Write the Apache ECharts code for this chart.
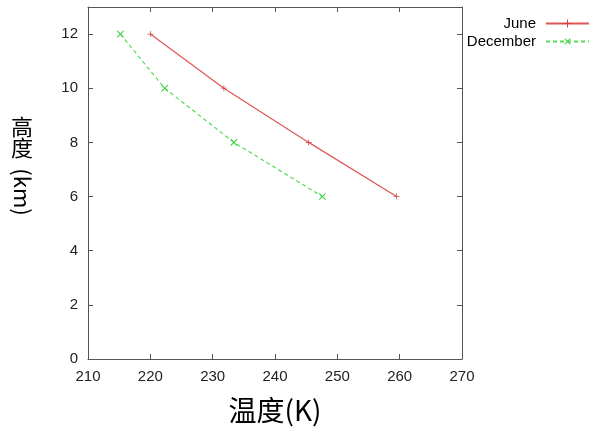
<!DOCTYPE html>
<html>
<head>
<meta charset="utf-8">
<script src="https://cdn.jsdelivr.net/npm/echarts@6/dist/echarts.min.js"></script>
<style>html,body{margin:0;padding:0;background:#fff}#c{width:593px;height:430px}</style>
</head>
<body>
<div id="c"></div>
<script>
var seriesNames = ['June', 'December'];
var juneTemp = [220.0, 231.8, 245.4, 259.5];
var juneAlt = [12, 10, 8, 6];
var decTemp = [215.2, 222.3, 233.4, 247.6];
var decAlt = [12, 10, 8, 6];
var xTitle = '温度(K)';
var yTitleParts = ['高', '度', '(km)'];

function pairs(xs, ys) { return xs.map(function (v, i) { return [v, ys[i]]; }); }

var frameColor = '#555';
var labelFont = { fontSize: 15, fontFamily: '"Liberation Sans", Arial, sans-serif', color: '#222' };
var plusPath = 'path://M0,4.4H10V5.6H0Z M4.4,0H5.6V10H4.4Z';
var cjk = '"Noto Sans CJK SC", sans-serif';

var chart = echarts.init(document.getElementById('c'), null, { renderer: 'canvas' });
chart.setOption({
  animation: false,
  backgroundColor: '#fff',
  grid: { left: 88, right: 131, top: 7, bottom: 71, containLabel: false, outerBoundsMode: 'none' },
  xAxis: [
    { type: 'value', min: 210, max: 270, interval: 10, position: 'bottom',
      name: xTitle, nameLocation: 'middle', nameGap: 37,
      nameTextStyle: { fontSize: 28, fontFamily: cjk, color: '#000' },
      axisLine: { show: true, onZero: false, lineStyle: { color: frameColor, width: 1 } },
      axisTick: { inside: true, length: 5, lineStyle: { color: frameColor } },
      axisLabel: Object.assign({ margin: 10 }, labelFont),
      splitLine: { show: false } },
    { type: 'value', min: 210, max: 270, interval: 10, position: 'top',
      axisLine: { show: true, onZero: false, lineStyle: { color: frameColor, width: 1 } },
      axisTick: { inside: true, length: 5, lineStyle: { color: frameColor } },
      axisLabel: { show: false }, splitLine: { show: false } }
  ],
  yAxis: [
    { type: 'value', min: 0, max: 13, interval: 2, position: 'left',
      axisLine: { show: true, onZero: false, lineStyle: { color: frameColor, width: 1 } },
      axisTick: { inside: true, length: 5, lineStyle: { color: frameColor } },
      axisLabel: Object.assign({ margin: 10, showMaxLabel: false }, labelFont),
      splitLine: { show: false } },
    { type: 'value', min: 0, max: 13, interval: 2, position: 'right',
      axisLine: { show: true, onZero: false, lineStyle: { color: frameColor, width: 1 } },
      axisTick: { inside: true, length: 5, lineStyle: { color: frameColor } },
      axisLabel: { show: false }, splitLine: { show: false } }
  ],
  legend: [
    { data: [seriesNames[0]], orient: 'vertical', align: 'right', right: 3, top: 16, padding: 0,
      itemWidth: 43, itemHeight: 10, itemGap: 0,
      textStyle: { fontSize: 15, fontFamily: '"Liberation Sans", Arial, sans-serif', color: '#000', padding: [0, 5, 0, 0] } },
    { data: [seriesNames[1]], orient: 'vertical', align: 'right', right: 3, top: 34, padding: 0,
      itemWidth: 43, itemHeight: 10, itemGap: 0,
      textStyle: { fontSize: 15, fontFamily: '"Liberation Sans", Arial, sans-serif', color: '#000', padding: [0, 5, 0, 0] } }
  ],
  series: [
    { name: seriesNames[0], type: 'line', data: pairs(juneTemp, juneAlt),
      symbol: plusPath, symbolSize: 6, showAllSymbol: true,
      lineStyle: { color: '#e05555', width: 1.2, type: 'solid' },
      itemStyle: { color: '#d04040' } },
    { name: seriesNames[1], type: 'line', data: pairs(decTemp, decAlt),
      symbol: plusPath, symbolSize: 9, symbolRotate: 45, showAllSymbol: true,
      lineStyle: { color: '#55dd55', width: 1.2, type: [4, 3] },
      itemStyle: { color: '#44cc44' } }
  ],
  graphic: [
    { type: 'text', x: 22, y: 127, style: { text: yTitleParts[0], font: '22px ' + cjk, fill: '#000', align: 'center', verticalAlign: 'middle', textAlign: 'center', textVerticalAlign: 'middle' } },
    { type: 'text', x: 22, y: 148, style: { text: yTitleParts[1], font: '22px ' + cjk, fill: '#000', align: 'center', verticalAlign: 'middle', textAlign: 'center', textVerticalAlign: 'middle' } },
    { type: 'text', x: 22, y: 192, rotation: -Math.PI / 2, style: { text: yTitleParts[2], font: '22px ' + cjk, fill: '#000', align: 'center', verticalAlign: 'middle', textAlign: 'center', textVerticalAlign: 'middle' } }
  ]
});
</script>
</body>
</html>
